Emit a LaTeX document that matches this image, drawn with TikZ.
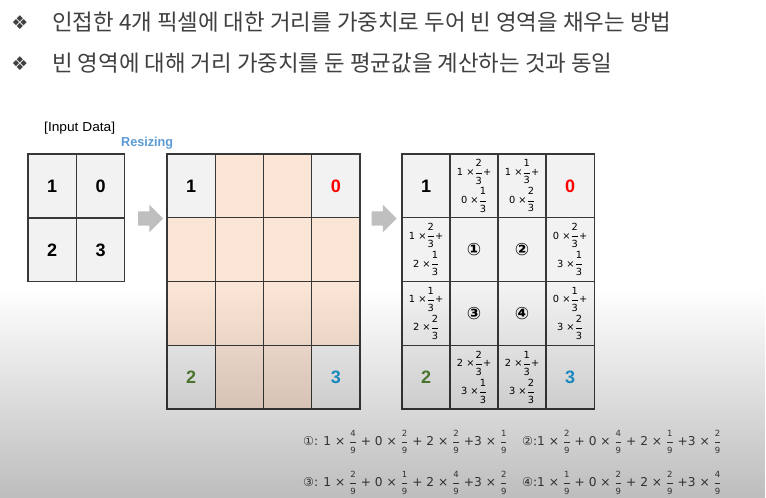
\documentclass[tikz,border=0pt]{standalone}
\usepackage{amsmath}
\usepackage{fontspec}
\usepackage{graphicx}
\setmainfont{DejaVu Sans}
\newfontfamily\kr{Noto Sans CJK KR}
\newfontfamily\arial{Liberation Sans}
\usetikzlibrary{shapes.arrows,fadings}

\definecolor{txtgray}{HTML}{404040}
\definecolor{cellgray}{HTML}{F2F2F2}
\definecolor{peach}{HTML}{FBE5D6}
\definecolor{linegray}{HTML}{383838}
\definecolor{arrowgray}{HTML}{BFBFBF}
\definecolor{numred}{HTML}{FF0000}
\definecolor{numgreen}{HTML}{548235}
\definecolor{numblue}{HTML}{1C9AD6}
\definecolor{resizeblue}{HTML}{5B9BD5}

% fractions
\newcommand\fr[2]{\ensuremath{\genfrac{}{}{0.5pt}{0}{\hbox{\raisebox{1.8pt}{#1}}}{\hbox{\raisebox{-1.8pt}{#2}}}}}
\newcommand\sfr[2]{\ensuremath{\genfrac{}{}{0.4pt}{0}{\hbox{\fontsize{8.5}{8.5}\selectfont #1}}{\hbox{\fontsize{8.5}{8.5}\selectfont #2}}}}
\newcommand\wsum[4]{#1 ×\fr{#2}{3}+\\#3 ×\fr{#4}{3}}
\newcommand\bnum[2]{{\arial\bfseries\fontsize{18}{18}\selectfont\color{#1}#2}}
\newcommand\cnum[1]{{\bfseries\fontsize{17}{17}\selectfont #1}}

\tikzset{
  cell/.style={draw=linegray, line width=1.3pt, fill=cellgray, minimum width=48.25pt,
    minimum height=63.75pt, inner sep=0pt, outer sep=0pt, anchor=north west,
    align=center, font=\fontsize{9.8}{28}\selectfont},
  bigarrow/.style={single arrow, fill=arrowgray, minimum height=25pt, inner xsep=0pt,
    inner ysep=7pt, single arrow head extend=6.5pt},
  bullet/.style={text=txtgray, font=\fontsize{19}{19}\selectfont, inner sep=0pt},
  headline/.style={anchor=west, inner sep=0pt, text=txtgray, font=\kr\fontsize{22.4}{26}\selectfont},
  formula/.style={anchor=west, inner sep=0pt, text=txtgray, font=\fontsize{12.2}{14}\selectfont}
}

\begin{document}
\begin{tikzpicture}[x=1pt,y=-1pt]
  \useasboundingbox (0,0) rectangle (766,498);
  \fill[white] (0,0) rectangle (766,498);

  % header lines
  \node[bullet] (bul1) at (20,23) {❖};
  \node[headline] (line1) at (52,22) {인접한 4개 픽셀에 대한 거리를 가중치로 두어 빈 영역을 채우는 방법};
  \node[bullet] (bul2) at (20,64) {❖};
  \node[headline] (line2) at (52,63) {빈 영역에 대해 거리 가중치를 둔 평균값을 계산하는 것과 동일};

  \node[anchor=west, inner sep=0pt, font=\arial\fontsize{13}{13}\selectfont] (inp) at (44,128)
    {\resizebox{71pt}{\height}{[Input Data]}};
  \node[anchor=west, inner sep=0pt, text=resizeblue, font=\arial\bfseries\fontsize{13}{13}\selectfont] (rsz) at (121,143)
    {\resizebox{52pt}{\height}{Resizing}};

  % input grid
  \foreach \val [count=\k from 0] in {1,0,2,3} {
    \pgfmathtruncatemacro\rr{\k/2}
    \pgfmathtruncatemacro\cc{mod(\k,2)}
    \node[cell] (in-\k) at ({28+\cc*48.5},{154+\rr*64}) {\bnum{black}{\val}};
  }

  \node[bigarrow] (arr1) at (147,218.5) {};

  % resized grid
  \foreach \val/\fc [count=\k from 0] in {{\bnum{black}{1}}/cellgray, /peach, /peach, {\bnum{numred}{0}}/cellgray,
      /peach, /peach, /peach, /peach,
      /peach, /peach, /peach, /peach,
      {\bnum{numgreen}{2}}/cellgray, /peach, /peach, {\bnum{numblue}{3}}/cellgray} {
    \pgfmathtruncatemacro\rr{\k/4}
    \pgfmathtruncatemacro\cc{mod(\k,4)}
    \node[cell, fill=\fc] (rs-\k) at ({167+\cc*48.25},{154+\rr*63.75}) {\val};
  }

  \node[bigarrow] (arr2) at (380.5,218.5) {};

  % interpolated grid
  \foreach \val [count=\k from 0] in {{\bnum{black}{1}}, {\wsum1201}, {\wsum1102}, {\bnum{numred}{0}},
      {\wsum1221}, {\cnum{①}}, {\cnum{②}}, {\wsum0231},
      {\wsum1122}, {\cnum{③}}, {\cnum{④}}, {\wsum0132},
      {\bnum{numgreen}{2}}, {\wsum2231}, {\wsum2132}, {\bnum{numblue}{3}}} {
    \pgfmathtruncatemacro\rr{\k/4}
    \pgfmathtruncatemacro\cc{mod(\k,4)}
    \node[cell] (bl-\k) at ({402+\cc*48},{154+\rr*63.75}) {\val};
  }

  % formulas
  \node[formula] (f1) at (303,442) {①: 1 × \sfr49 + 0 × \sfr29 + 2 × \sfr29 +3 × \sfr19};
  \node[formula] (f2) at (522,442) {②:1 × \sfr29 + 0 × \sfr49 + 2 × \sfr19 +3 × \sfr29};
  \node[formula] (f3) at (303,483) {③: 1 × \sfr29 + 0 × \sfr19 + 2 × \sfr49 +3 × \sfr29};
  \node[formula] (f4) at (522,483) {④:1 × \sfr19 + 0 × \sfr29 + 2 × \sfr29 +3 × \sfr49};

  % darkening toward the bottom
  \fill[black, fill opacity=0.26, path fading=north] (0,288) rectangle (766,498);
\end{tikzpicture}
\end{document}
